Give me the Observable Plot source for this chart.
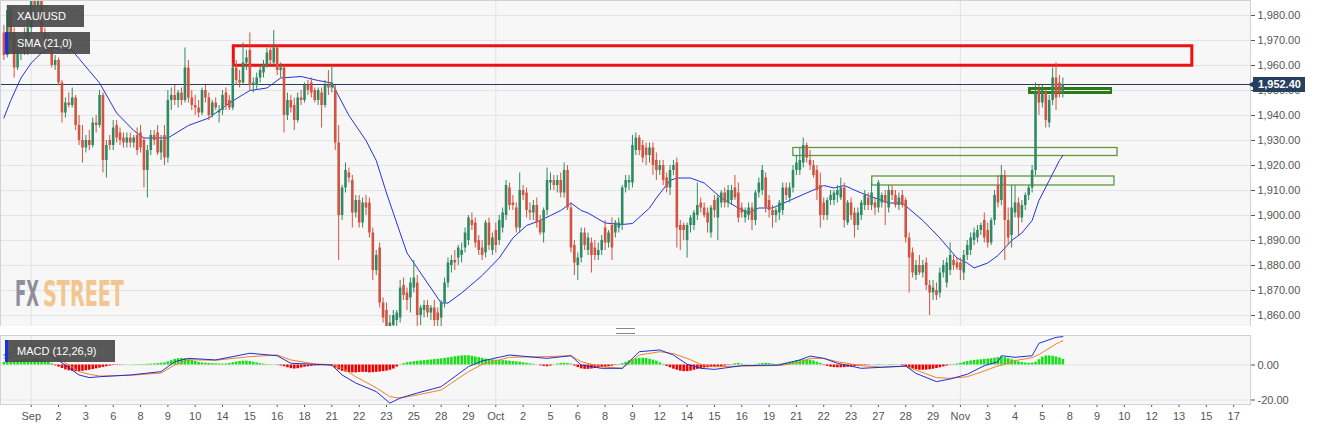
<!DOCTYPE html>
<html><head><meta charset="utf-8">
<script src="https://cdn.jsdelivr.net/npm/d3@7"></script>
<script src="https://cdn.jsdelivr.net/npm/@observablehq/plot@0.6"></script>
<style>
body{margin:0;background:#fff;font-family:"Liberation Sans",Arial,sans-serif;}
#wrap{position:relative;width:1321px;height:430px;overflow:hidden;background:#fff;}
#wrap svg.plt{position:absolute;left:0;max-width:none;}
.lbl{position:absolute;background:rgba(74,74,74,0.92);color:#fff;font-size:11px;line-height:22px;height:22px;box-sizing:border-box;padding-left:12px;white-space:nowrap;z-index:5;}
.lbl .bar{position:absolute;left:0;top:0;width:3px;height:100%;background:#1a2fe8;}
#handle{position:absolute;left:616px;width:19px;height:4px;top:328px;border-top:1px solid #8a8a8a;border-bottom:1px solid #8a8a8a;z-index:5;}
#wm{position:absolute;left:0;top:0;z-index:4;pointer-events:none;}
</style></head><body>
<div id="wrap">
  <div class="lbl" style="left:7px;top:5px;width:77px;padding-left:10px;">XAU/USD</div>
  <div class="lbl" style="left:5px;top:32px;width:85px;"><span class="bar"></span>SMA (21,0)</div>
  <div class="lbl" style="left:5px;top:340px;width:110px;"><span class="bar"></span>MACD (12,26,9)</div>
  <div id="handle"></div>
</div>
<script>
// ---- candles (4h bars) ----
const opens = [
1973,1964,1982,1973,1959,1966,1968,1966,
1975,1986,1984,1988,1973,1969,1967,1960,
1962,1953,1941,1945,1944,1947,1936,1930,
1927,1930,1928,1937,1936,1948,1922,1930,
1928,1936,1933,1931,1929,1931,1929,1932,
1933,1930,1918,1926,1932,1933,1925,1932,
1923,1946,1948,1946,1949,1946,1959,1947,
1944,1943,1941,1950,1947,1940,1945,1941,
1942,1949,1946,1943,1959,1954,1953,1961,
1966,1952,1952,1955,1957,1960,1966,1961,
1967,1958,1959,1940,1946,1944,1938,1947,
1946,1952,1953,1950,1946,1949,1944,1952,
1951,1950,1929,1900,1911,1917,1914,1901,
1906,1897,1905,1905,1893,1878,1887,1865,
1862,1855,1856,1858,1859,1872,1869,1867,
1871,1873,1860,1862,1864,1861,1863,1861,
1859,1865,1873,1880,1882,1883,1884,1887,
1890,1898,1897,1890,1887,1885,1897,1886,
1894,1890,1895,1900,1911,1905,1903,1895,
1910,1909,1902,1901,1904,1898,1893,1902,
1913,1914,1912,1914,1909,1918,1903,1888,
1880,1883,1893,1886,1889,1887,1884,1886,
1895,1889,1896,1893,1895,1896,1911,1913,
1913,1926,1931,1928,1927,1924,1927,1922,
1918,1920,1915,1911,1918,1921,1896,1896,
1890,1896,1896,1900,1905,1903,1901,1893,
1906,1899,1905,1909,1905,1906,1911,1909,
1903,1899,1900,1903,1898,1909,1910,1915,
1906,1902,1900,1901,1902,1911,1907,1911,
1918,1918,1921,1928,1922,1920,1918,1912,
1905,1900,1906,1906,1908,1907,1911,1897,
1905,1901,1896,1900,1904,1907,1904,1905,
1903,1905,1908,1903,1910,1908,1904,1908,
1906,1891,1885,1876,1880,1877,1881,1872,
1869,1870,1869,1877,1873,1878,1882,1881,
1881,1877,1884,1886,1890,1891,1894,1898,
1894,1889,1898,1912,1906,1916,1898,1892,
1901,1905,1899,1904,1908,1911,1918,1950,
1945,1949,1937,1946,1955,1953,1949];
const highs = [
1976,1984,1983,1975,1968,1972,1975,1978,
1990,1992,1990,1992,1975,1973,1968,1964,
1963,1954,1947,1949,1951,1948,1940,1936,
1932,1934,1939,1940,1950,1949,1930,1932,
1938,1938,1935,1933,1933,1933,1932,1935,
1936,1931,1928,1934,1934,1936,1932,1936,
1950,1951,1952,1950,1951,1967,1962,1950,
1948,1946,1951,1952,1949,1946,1947,1944,
1950,1951,1948,1961,1962,1958,1969,1966,
1973,1955,1957,1960,1962,1967,1968,1974,
1968,1961,1960,1949,1948,1947,1949,1950,
1953,1954,1955,1951,1951,1951,1954,1958,
1960,1952,1936,1912,1921,1919,1916,1908,
1908,1907,1908,1907,1895,1886,1889,1867,
1865,1860,1862,1862,1874,1875,1871,1875,
1882,1876,1864,1866,1866,1864,1866,1863,
1866,1875,1883,1884,1886,1888,1889,1895,
1900,1901,1899,1892,1890,1898,1899,1893,
1897,1900,1903,1914,1913,1908,1905,1917,
1912,1911,1905,1906,1907,1900,1903,1919,
1917,1916,1916,1917,1921,1920,1905,1890,
1885,1895,1895,1893,1891,1890,1889,1892,
1898,1894,1899,1898,1899,1912,1916,1916,
1932,1933,1932,1930,1929,1929,1929,1925,
1922,1922,1917,1920,1922,1923,1898,1897,
1897,1900,1902,1913,1907,1905,1903,1904,
1908,1908,1910,1911,1912,1912,1916,1913,
1905,1903,1905,1905,1910,1915,1920,1917,
1908,1904,1903,1906,1913,1913,1913,1920,
1924,1927,1931,1929,1926,1922,1920,1917,
1907,1907,1910,1910,1912,1915,1913,1906,
1907,1903,1903,1906,1910,1909,1913,1907,
1914,1909,1910,1912,1912,1910,1909,1910,
1907,1893,1887,1882,1884,1882,1883,1874,
1874,1873,1879,1882,1883,1889,1884,1883,
1883,1886,1890,1893,1895,1896,1897,1901,
1897,1899,1910,1916,1920,1918,1903,1912,
1912,1907,1906,1909,1912,1920,1953,1952,
1952,1950,1948,1959,1961,1956,1955];
const lows = [
1962,1963,1970,1955,1958,1962,1964,1964,
1972,1980,1978,1972,1966,1965,1959,1958,
1952,1937,1939,1943,1943,1934,1928,1921,
1925,1926,1927,1933,1935,1917,1915,1926,
1926,1929,1928,1927,1927,1927,1927,1924,
1925,1911,1907,1924,1928,1924,1922,1920,
1921,1942,1944,1943,1944,1945,1945,1942,
1940,1939,1940,1945,1938,1939,1942,1937,
1940,1942,1942,1942,1952,1951,1952,1958,
1950,1949,1950,1953,1955,1959,1960,1960,
1956,1955,1933,1938,1941,1934,1937,1944,
1945,1948,1947,1945,1944,1935,1943,1948,
1949,1926,1882,1898,1909,1913,1895,1899,
1895,1895,1900,1891,1874,1876,1863,1857,
1853,1852,1853,1855,1857,1866,1862,1861,
1869,1853,1856,1859,1859,1858,1855,1854,
1855,1863,1871,1877,1878,1880,1881,1885,
1888,1894,1887,1884,1882,1883,1886,1884,
1885,1888,1893,1898,1902,1902,1893,1893,
1906,1899,1898,1898,1895,1892,1889,1900,
1910,1910,1909,1907,1907,1902,1885,1876,
1874,1881,1886,1884,1877,1882,1882,1884,
1886,1887,1882,1891,1893,1894,1909,1910,
1911,1924,1924,1921,1920,1921,1916,1914,
1916,1912,1909,1908,1916,1887,1886,1890,
1883,1893,1894,1898,1901,1899,1893,1891,
1899,1890,1903,1903,1903,1904,1906,1897,
1899,1897,1898,1894,1896,1907,1908,1901,
1899,1895,1897,1898,1900,1906,1905,1909,
1916,1916,1919,1921,1918,1915,1906,1895,
1898,1898,1904,1904,1905,1906,1895,1896,
1898,1891,1894,1898,1902,1902,1902,1900,
1901,1903,1896,1901,1906,1903,1902,1903,
1889,1869,1875,1874,1876,1875,1870,1860,
1866,1866,1867,1875,1871,1876,1878,1878,
1874,1874,1882,1884,1888,1889,1892,1889,
1887,1888,1896,1903,1904,1882,1888,1887,
1899,1892,1897,1902,1906,1909,1916,1940,
1943,1935,1935,1944,1942,1947,1947];
const closes = [
1964,1982,1973,1959,1966,1968,1966,1975,
1986,1984,1988,1973,1969,1967,1960,1962,
1953,1941,1945,1944,1947,1936,1930,1927,
1930,1928,1937,1936,1948,1922,1928,1928,
1935,1931,1930,1929,1931,1929,1931,1926,
1927,1918,1926,1932,1930,1925,1930,1923,
1946,1948,1946,1949,1946,1959,1947,1944,
1943,1941,1950,1947,1940,1945,1943,1942,
1948,1944,1943,1959,1954,1953,1961,1963,
1952,1953,1955,1958,1960,1965,1962,1967,
1958,1959,1940,1946,1943,1938,1947,1946,
1952,1950,1949,1946,1950,1944,1952,1951,
1953,1929,1900,1911,1918,1915,1901,1906,
1897,1905,1903,1893,1878,1884,1865,1859,
1855,1857,1860,1861,1871,1868,1866,1873,
1875,1860,1863,1864,1861,1863,1858,1858,
1865,1873,1881,1882,1881,1887,1886,1893,
1899,1896,1889,1886,1884,1897,1888,1891,
1888,1898,1901,1912,1904,1904,1895,1910,
1908,1902,1901,1904,1897,1893,1902,1914,
1914,1912,1914,1909,1918,1903,1887,1881,
1883,1893,1888,1891,1884,1884,1886,1890,
1889,1893,1887,1897,1897,1911,1914,1914,
1928,1931,1926,1923,1924,1927,1920,1918,
1920,1914,1911,1918,1920,1895,1894,1894,
1896,1899,1901,1904,1903,1900,1897,1903,
1902,1907,1909,1905,1910,1910,1907,1899,
1901,1902,1903,1898,1909,1913,1918,1903,
1902,1900,1902,1905,1911,1908,1911,1918,
1921,1922,1928,1923,1920,1916,1910,1900,
1900,1906,1908,1909,1910,1911,1898,1905,
1900,1896,1901,1905,1908,1904,1909,1903,
1913,1908,1905,1910,1908,1904,1907,1904,
1891,1883,1877,1880,1877,1880,1872,1869,
1871,1868,1877,1880,1881,1884,1880,1879,
1878,1884,1888,1891,1893,1894,1896,1891,
1889,1898,1908,1905,1916,1898,1891,1903,
1905,1899,1904,1908,1911,1918,1949,1945,
1950,1938,1946,1955,1947,1949,1952.4];
const lastPrice = 1952.40;

// ---- SMA (21): bar index / value ----
const smaIdx = [0,2,5,8,11,14,20,28,33,38,41,48,54,60,66,72,77,81,87,92,96,101,106,109,112,118,122,128,130,134,140,145,149,153,157,160,163,166,169,171,176,181,184,189,191,195,197,201,205,210,215,218,221,225,230,235,240,243,246,251,255,259,263,269,274,279,282,284,288,291,293,295,298,301,303,306,309,310];
const smaVal = [1939,1946,1955,1961,1965,1967,1966,1953,1941,1934,1931,1931,1936,1939,1945,1950,1951,1955,1955.6,1954,1953,1940,1930,1922,1909,1885,1877,1865,1865,1869,1876,1883,1891,1896,1898,1900,1902,1905,1902,1901,1897,1896.4,1896.8,1903,1907,1914,1915,1915,1913,1907,1903,1901,1903,1903,1906,1909,1912,1911,1912,1909,1907,1905,1905,1898,1891,1883,1881,1879,1881,1884,1887,1890,1893,1898,1906,1914,1922,1924];

// ---- MACD (12,26,9) ----
const macdIdx = [0,10,15,22,25,28,37,46,50,54,62,72,80,84,91,96,99,103,109,113,116,121,128,136,140,148,159,166,169,175,181,186,192,196,200,204,208,216,227,233,236,240,244,251,257,264,267,273,277,282,287,291,292,296,301,303,308,310];
const macdVal = [5.7,11.4,4,-5.7,-7.2,-6.7,-5.7,-3.8,1.9,3.8,2.9,6.7,5.3,1,0.4,0,-5.7,-10.3,-15.2,-21.8,-18.9,-16,-12.4,-0.9,2.3,5.7,3.8,5.3,0,-1.9,-1.9,7.6,8.6,5.7,0.4,-1.9,-2.5,-0.4,0,2.9,5.1,3.8,1,-1.9,-1.3,-0.6,-4.8,-9.5,-8,-5.3,-0.4,1.9,5.3,4.4,5.3,12.4,15.8,16.2];
const signalVal = [4,7.6,5,-3.8,-5.3,-6.3,-5.9,-4.6,0,3,2.7,4.8,5.7,2.9,0.6,0.2,-1.7,-6.7,-13,-18.1,-18.9,-17.1,-14.3,-3.8,0.4,4.4,4.8,5.3,1.9,-1,-1.9,5.7,7.6,6.5,3.8,0.4,-1,-0.6,-0.3,1.5,3.8,3.8,1.9,-0.4,-1.2,-0.8,-2.9,-7.2,-7.6,-6.7,-3.4,-0.5,-0.2,2.5,4.2,6,12,13.9];
const histVal = [
1.5,1.8,2,2.3,2.5,2.8,3,3.2,3.3,3.4,3.4,3.2,2.8,
1.8,0.8,
-0.5,-1.2,-2,-2.8,-3.3,-3.6,-3.8,-3.8,-3.6,-3.3,-3,-2.6,-2.2,-1.8,-1.4,-1,-0.6,
-0.3,-0.2,-0.2,-0.1,0.1,0.1,0.2,0.2,0.3,0.3,0.4,0.5,0.6,
0.8,1,1.2,
1.8,2.5,3.2,3.6,3.8,3.6,3.2,2.6,2,
1.5,1.2,1,0.9,0.8,0.7,0.6,0.5,0.6,
0.9,1.3,1.7,2,2.2,2.2,2,1.6,1.2,
0.8,0.5,0.3,0.2,0.1,-0.2,-0.5,
-1,-1.6,-2.1,-2.3,-2.1,-1.7,
-1.3,-1,-0.8,-0.6,-0.5,-0.4,-0.4,-0.5,-0.8,
-1.8,-2.8,-3.6,-4,-4.3,-4.5,-4.5,-4.3,-4.2,-4.3,-4.5,-4.4,-4.2,-4,-3.8,-3.5,-3,-2.3,-1.2,
0.2,0.8,1.3,1.6,1.9,2.1,2.3,2.5,2.7,2.9,3.1,3.3,3.5,3.8,4.1,4.4,4.7,5,5.2,5.3,
5.3,5,4.6,4.2,3.8,3.4,3.1,2.9,
2.7,2.6,2.5,2.4,2.2,2,1.8,1.6,1.3,1,0.7,0.4,
0.1,-0.4,-0.8,-1,-0.6,
0.2,0.6,0.9,1,0.8,0.5,
-0.6,-1.5,-2.2,-2.5,-2.5,-2.3,-2,-1.7,-1.5,-1.3,-1,-0.7,-0.3,
0.3,0.8,1.5,2.3,3,3.5,3.8,3.9,3.7,3.3,2.8,2.2,
1.2,0.4,
-0.8,-1.6,-2.4,-3,-3.5,-3.8,-3.8,-3.5,-3,-2.5,-2,-1.7,-1.5,
-1.4,-1.3,-1.1,-0.9,-0.6,-0.3,
0.3,0.7,0.9,0.5,
0.2,-0.1,0.1,0.3,
0.6,0.9,1,0.8,0.5,
0.3,0.5,0.8,1.2,1.6,2,2.4,2.7,2.9,3,2.8,2.3,1.6,0.9,
-0.3,-0.8,-1.2,-1.5,-1.6,-1.6,-1.5,-1.3,-1.1,-0.9,-0.7,-0.5,
-0.3,-0.2,0.1,0.2,0.3,0.2,0.1,0.2,0.3,0.2,0.1,
-0.5,-1.2,-1.8,-2.3,-2.7,-3,-3,-2.9,-2.7,-2.4,-2,-1.6,-1.1,-0.6,
-0.2,0.3,0.6,
1,1.5,2,2.3,2.6,2.8,3,3.2,3.4,3.6,3.9,4.2,4.5,4.2,3.6,3,2.4,1.8,1.4,1.1,1,1.1,1.6,
3,4.5,5.2,5.2,5,4.6,4,3.2];

// ---- axis labels (one every 8 bars, starting at bar 8) ----
const xLabels = ["Sep","2","3","6","8","9","10","14","15","16","18","21","22","23","25","28","29","Oct","2","5","6","8","9","12","14","15","16","19","21","22","23","27","28","29","Nov","3","4","5","8","9","10","12","13","15","17"];
const priceTicks = [1860,1870,1880,1890,1900,1910,1920,1930,1940,1950,1960,1970,1980];
const macdTicks = [0,-20];

// ---- drawn zones (bar index from/to, price from/to) ----
const zoneX1 = [67.3, 231.1, 254.2, 300.4];
const zoneX2 = [347.9, 326.0, 325.1, 324.1];
const zoneTop = [1967.7, 1927.0, 1915.6, 1950.6];
const zoneBottom = [1959.9, 1923.8, 1912.0, 1949.0];
const zoneKind = ["red","thin","thin","thick"];

const GREEN = "#2f8a62", RED = "#d2533f";
const xDomain = [-0.995, 364.93];
const FONT = "'Liberation Sans', Arial, sans-serif";

const bars = closes.map((c, i) => ({i, o: opens[i], h: highs[i], l: lows[i], c, col: c >= opens[i] ? GREEN : RED}));
const sma = smaIdx.map((i, k) => ({i, v: smaVal[k]}));
const macdLine = macdIdx.map((i, k) => ({i, v: macdVal[k]}));
const sigLine = macdIdx.map((i, k) => ({i, v: signalVal[k]}));
const hist = histVal.map((v, i) => ({i, v, z: 0, col: v >= 0 ? "#17e017" : "#f20000"}));
const zones = zoneX1.map((x1, k) => ({x1, x2: zoneX2[k], y1: zoneBottom[k], y2: zoneTop[k], kind: zoneKind[k]}));
const tickIdx = xLabels.map((_, k) => 8 + 8 * k);
const monthIdx = tickIdx.filter((_, k) => isNaN(+xLabels[k]));
const fmtPrice = d3.format(",.2f");

const main = Plot.plot({
  width: 1321, height: 326,
  marginLeft: 0, marginRight: 71, marginTop: 0, marginBottom: 0,
  x: {domain: xDomain, axis: null, label: null},
  y: {domain: [1855.6, 1986], axis: null, label: null},
  color: {type: "identity"},
  style: {background: "transparent", fontFamily: FONT, fontSize: "11px", color: "#555", overflow: "hidden"},
  marks: [
    Plot.frame({fill: "#f7f7f8", stroke: "none"}),
    Plot.gridY(priceTicks, {stroke: "#e3e3e6", strokeOpacity: 1}),
    Plot.gridX(monthIdx, {stroke: "#e3e3e6", strokeOpacity: 1}),
    Plot.axisY(priceTicks, {anchor: "right", label: null, tickSize: 4, tickPadding: 3, tickFormat: fmtPrice, fontSize: 11}),
    Plot.rect(zones.filter(d => d.kind === "thin"), {x1: "x1", x2: "x2", y1: "y1", y2: "y2", fill: "none", stroke: "#5c9a3c", strokeWidth: 1.3}),
    Plot.rect(zones.filter(d => d.kind === "thick"), {x1: "x1", x2: "x2", y1: "y1", y2: "y2", fill: "#ffffff", fillOpacity: 0.85, stroke: "#2c7a17", strokeWidth: 3}),
    Plot.rect(zones.filter(d => d.kind === "red"), {x1: "x1", x2: "x2", y1: "y1", y2: "y2", fill: "none", stroke: "#f01010", strokeWidth: 3}),
    Plot.ruleY([lastPrice], {stroke: "#2a3b58", strokeWidth: 1}),
    Plot.line(sma, {x: "i", y: "v", stroke: "#2233e0", strokeWidth: 1}),
    Plot.ruleX(bars, {x: "i", y1: "l", y2: "h", stroke: "col", strokeWidth: 1}),
    Plot.ruleX(bars, {x: "i", y1: "o", y2: "c", stroke: "col", strokeWidth: 2.6}),
    Plot.frame({stroke: "#d2d2d6"}),
    Plot.ruleY([lastPrice], {stroke: "#27405f", strokeWidth: 15, insetLeft: 1253, insetRight: -55}),
    Plot.dot([lastPrice], {y: d => d, frameAnchor: "right", dx: 3, symbol: "triangle", r: 3.5, rotate: -90, fill: "#27405f", stroke: "none"}),
    Plot.text([lastPrice], {y: d => d, text: d => fmtPrice(d), frameAnchor: "right", dx: 29, fill: "#ffffff", fontWeight: "bold", fontSize: 11, textAnchor: "middle"})
  ]
});
main.classList.add("plt");
main.style.top = "0px";

const macd = Plot.plot({
  width: 1321, height: 104,
  marginLeft: 0, marginRight: 71, marginTop: 9, marginBottom: 26,
  x: {domain: xDomain, axis: null, label: null},
  y: {domain: [-22.57, 16.86], axis: null, label: null},
  color: {type: "identity"},
  style: {background: "transparent", fontFamily: FONT, fontSize: "11px", color: "#555", overflow: "hidden"},
  marks: [
    Plot.frame({fill: "#f7f7f8", stroke: "none"}),
    Plot.gridY(macdTicks, {stroke: "#e3e3e6", strokeOpacity: 1}),
    Plot.gridX(monthIdx, {stroke: "#e3e3e6", strokeOpacity: 1}),
    Plot.axisY(macdTicks, {anchor: "right", label: null, tickSize: 4, tickPadding: 3, tickFormat: d => d.toFixed(2), fontSize: 11}),
    Plot.axisX(tickIdx, {anchor: "bottom", label: null, tickSize: 3, tickPadding: 5, tickFormat: d => xLabels[(d - 8) / 8], fontSize: 11}),
    Plot.ruleX(hist, {x: "i", y1: "z", y2: "v", stroke: "col", strokeWidth: 2.6}),
    Plot.line(sigLine, {x: "i", y: "v", stroke: "#f08224", strokeWidth: 1}),
    Plot.line(macdLine, {x: "i", y: "v", stroke: "#1f2fd8", strokeWidth: 1}),
    Plot.frame({stroke: "#d2d2d6"})
  ]
});
macd.classList.add("plt");
macd.style.top = "326px";

const wrap = document.getElementById("wrap");
wrap.insertBefore(macd, wrap.firstChild);
wrap.insertBefore(main, wrap.firstChild);

// FXSTREET watermark (text, two parts side by side, horizontally condensed with a transform)
const ns = "http://www.w3.org/2000/svg";
const wm = document.createElementNS(ns, "svg");
wm.setAttribute("id", "wm"); wm.setAttribute("width", 1321); wm.setAttribute("height", 430);
wrap.appendChild(wm);
function wmText(x, len, fill, str) {
  const t = document.createElementNS(ns, "text");
  t.setAttribute("x", 0); t.setAttribute("y", 0);
  t.setAttribute("font-family", "'DejaVu Sans Condensed', 'DejaVu Sans', sans-serif");
  t.setAttribute("font-weight", "bold"); t.setAttribute("font-size", 35);
  t.setAttribute("fill", fill);
  t.textContent = str;
  wm.appendChild(t);
  const natural = t.getComputedTextLength() || len;
  t.setAttribute("transform", `translate(${x},306) scale(${len / natural},1)`);
}
wmText(15, 24, "#8e8e9c", "FX");
wmText(43, 81, "#f2c68e", "STREET");
</script>
</body></html>
